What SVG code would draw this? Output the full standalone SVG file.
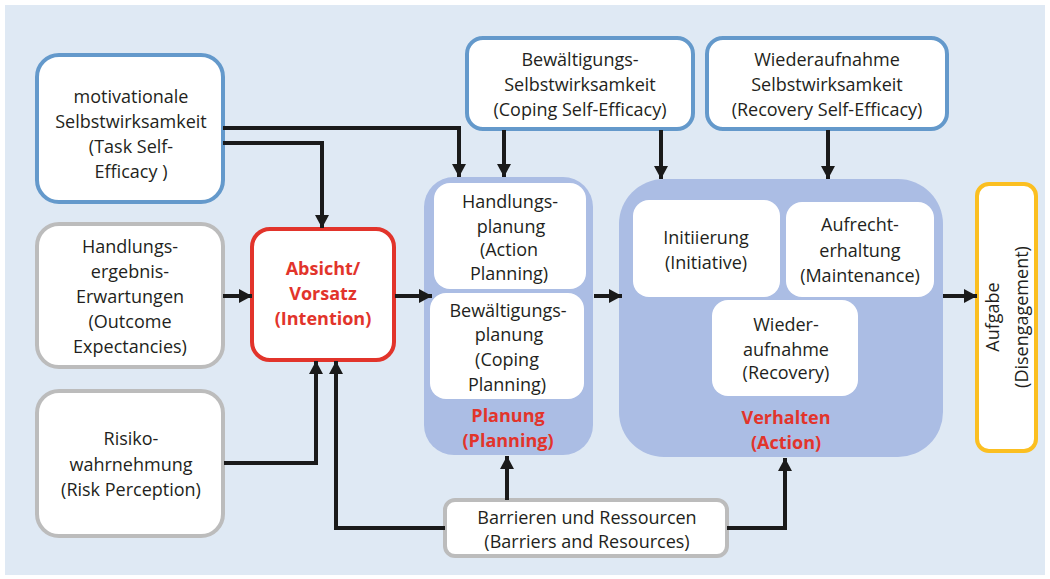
<svg xmlns="http://www.w3.org/2000/svg" width="1050" height="579" viewBox="0 0 1050 579">
<defs>
<marker id="ah" markerUnits="userSpaceOnUse" markerWidth="14" markerHeight="14" viewBox="0 0 14 14" refX="13" refY="7" orient="auto">
<path d="M0,0 L13,7 L0,14 Z" fill="#1a1a1a"/>
</marker>
<style>
.t{font-family:"Open Sans","Liberation Sans",sans-serif;font-size:18px;fill:#231f20;text-anchor:middle}
.r{font-family:"Open Sans","Liberation Sans",sans-serif;font-size:18px;font-weight:bold;fill:#e2342b;text-anchor:middle}
.blue{fill:#fff;stroke:#6499cb;stroke-width:4}
.gray{fill:#fff;stroke:#bcbcbc;stroke-width:4}
.inner{fill:#fff}
.cont{fill:#abbde4}
.c{fill:none;stroke:#1a1a1a;stroke-width:4;marker-end:url(#ah)}
</style>
</defs>
<rect x="5" y="5" width="1040" height="570" fill="#dfe9f4"/>

<g id="task-se">
<rect class="blue" x="37" y="55" width="186" height="147" rx="22"/>
<text class="t" x="131" y="103">motivationale</text>
<text class="t" x="131" y="128">Selbstwirksamkeit</text>
<text class="t" x="131" y="153">(Task Self-</text>
<text class="t" x="131" y="178">Efficacy )</text>
</g>

<g id="coping-se">
<rect class="blue" x="467" y="38" width="226" height="91" rx="16"/>
<text class="t" x="580" y="66">Bewältigungs-</text>
<text class="t" x="580" y="91">Selbstwirksamkeit</text>
<text class="t" x="580" y="116">(Coping Self-Efficacy)</text>
</g>

<g id="recovery-se">
<rect class="blue" x="707" y="38" width="240" height="91" rx="16"/>
<text class="t" x="827" y="66">Wiederaufnahme</text>
<text class="t" x="827" y="91">Selbstwirksamkeit</text>
<text class="t" x="827" y="116">(Recovery Self-Efficacy)</text>
</g>

<g id="outcome">
<rect class="gray" x="37" y="224" width="186" height="143" rx="22"/>
<text class="t" x="130" y="253">Handlungs-</text>
<text class="t" x="130" y="278">ergebnis-</text>
<text class="t" x="130" y="303">Erwartungen</text>
<text class="t" x="130" y="328">(Outcome</text>
<text class="t" x="130" y="353">Expectancies)</text>
</g>

<g id="intention">
<rect x="252" y="229" width="142" height="131" rx="18" fill="#fff" stroke="#e2342b" stroke-width="4"/>
<text class="r" x="323" y="275">Absicht/</text>
<text class="r" x="323" y="300">Vorsatz</text>
<text class="r" x="323" y="325">(Intention)</text>
</g>

<g id="risk">
<rect class="gray" x="37" y="391" width="186" height="145" rx="22"/>
<text class="t" x="131" y="445">Risiko-</text>
<text class="t" x="131" y="471">wahrnehmung</text>
<text class="t" x="131" y="496">(Risk Perception)</text>
</g>

<g id="planning">
<rect class="cont" x="424" y="177" width="169" height="278" rx="30"/>
<rect class="inner" x="434" y="183" width="152" height="106" rx="16"/>
<text class="t" x="510" y="208">Handlungs-</text>
<text class="t" x="511" y="233">planung</text>
<text class="t" x="509" y="256">(Action</text>
<text class="t" x="509" y="280">Planning)</text>
<rect class="inner" x="430" y="293" width="154" height="106" rx="16"/>
<text class="t" x="508" y="317">Bewältigungs-</text>
<text class="t" x="509" y="341">planung</text>
<text class="t" x="507" y="366">(Coping</text>
<text class="t" x="507" y="391">Planning)</text>
<text class="r" x="508" y="422">Planung</text>
<text class="r" x="508" y="447">(Planning)</text>
</g>

<g id="action">
<rect class="cont" x="619" y="179" width="324" height="278" rx="45"/>
<rect class="inner" x="633" y="200" width="147" height="97" rx="16"/>
<text class="t" x="706" y="244">Initiierung</text>
<text class="t" x="706" y="269">(Initiative)</text>
<rect class="inner" x="786" y="202" width="148" height="95" rx="16"/>
<text class="t" x="860" y="231">Aufrecht-</text>
<text class="t" x="860" y="257">erhaltung</text>
<text class="t" x="860" y="282">(Maintenance)</text>
<rect class="inner" x="712" y="300" width="146" height="96" rx="16"/>
<text class="t" x="786" y="331">Wieder-</text>
<text class="t" x="786" y="356">aufnahme</text>
<text class="t" x="786" y="379">(Recovery)</text>
<text class="r" x="786" y="424">Verhalten</text>
<text class="r" x="786" y="449">(Action)</text>
</g>

<g id="disengagement">
<rect x="977" y="184" width="59" height="267" rx="12" fill="#fff" stroke="#fbbf21" stroke-width="4"/>
<text class="t" transform="translate(999,317) rotate(-90)">Aufgabe</text>
<text class="t" transform="translate(1028,317) rotate(-90)">(Disengagement)</text>
</g>

<g id="barriers">
<rect class="gray" x="445" y="500" width="282" height="56" rx="10"/>
<text class="t" x="587" y="524">Barrieren und Ressourcen</text>
<text class="t" x="587" y="548">(Barriers and Resources)</text>
</g>

<g id="connectors">
<path class="c" d="M223,128 H459 V177"/>
<path class="c" d="M223,143 H322 V228"/>
<path class="c" d="M504,130 V177"/>
<path class="c" d="M661,130 V179"/>
<path class="c" d="M828,130 V179"/>
<path class="c" d="M223,296 H252"/>
<path class="c" d="M395,296 H432"/>
<path class="c" d="M594,296 H622"/>
<path class="c" d="M943,296 H977"/>
<path class="c" d="M224,463 H316 V361"/>
<path class="c" d="M445,528 H336 V361"/>
<path class="c" d="M507,500 V456"/>
<path class="c" d="M727,528 H785 V458"/>
</g>
</svg>
